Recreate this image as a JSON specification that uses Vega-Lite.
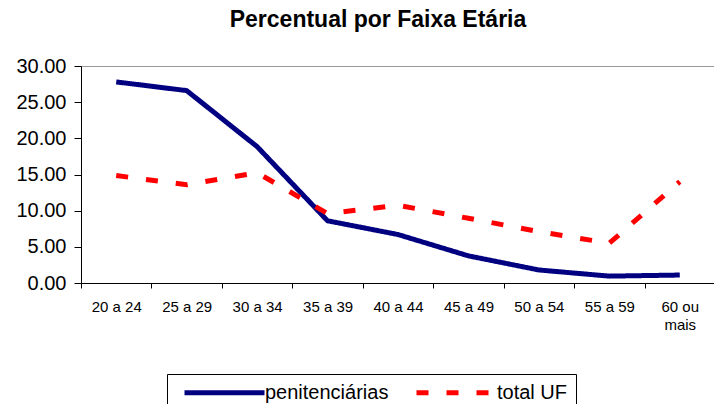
{
  "$schema": "https://vega.github.io/schema/vega-lite/v6.json",
  "autosize": {"type": "none"},
  "padding": {"left": 81, "top": 66, "right": -1, "bottom": 121},
  "width": 634,
  "height": 217,
  "background": "white",
  "title": {
    "text": "Percentual por Faixa Etária",
    "font": "Liberation Sans",
    "fontSize": 23,
    "fontWeight": "bold",
    "color": "black",
    "anchor": "middle",
    "dx": -20,
    "offset": 24
  },
  "data": {
    "values": [
      {"faixa": "20 a 24", "serie": "penitenciárias", "valor": 27.8},
      {"faixa": "25 a 29", "serie": "penitenciárias", "valor": 26.6},
      {"faixa": "30 a 34", "serie": "penitenciárias", "valor": 18.85},
      {"faixa": "35 a 39", "serie": "penitenciárias", "valor": 8.6},
      {"faixa": "40 a 44", "serie": "penitenciárias", "valor": 6.7},
      {"faixa": "45 a 49", "serie": "penitenciárias", "valor": 3.75},
      {"faixa": "50 a 54", "serie": "penitenciárias", "valor": 1.8},
      {"faixa": "55 a 59", "serie": "penitenciárias", "valor": 0.95},
      {"faixa": "60 ou mais", "serie": "penitenciárias", "valor": 1.1},
      {"faixa": "20 a 24", "serie": "total UF", "valor": 14.85},
      {"faixa": "25 a 29", "serie": "total UF", "valor": 13.6},
      {"faixa": "30 a 34", "serie": "total UF", "valor": 15.25},
      {"faixa": "35 a 39", "serie": "total UF", "valor": 9.6},
      {"faixa": "40 a 44", "serie": "total UF", "valor": 10.75},
      {"faixa": "45 a 49", "serie": "total UF", "valor": 8.95},
      {"faixa": "50 a 54", "serie": "total UF", "valor": 7.1},
      {"faixa": "55 a 59", "serie": "total UF", "valor": 5.5},
      {"faixa": "60 ou mais", "serie": "total UF", "valor": 14.0}
    ]
  },
  "mark": {"type": "line", "strokeWidth": 5, "strokeCap": "butt", "strokeJoin": "miter"},
  "encoding": {
    "x": {
      "field": "faixa",
      "type": "nominal",
      "sort": null,
      "bandPosition": 0.5,
      "scale": {"type": "band", "paddingInner": 0, "paddingOuter": 0},
      "axis": {
        "title": null,
        "labelAngle": 0,
        "labelFontSize": 15,
        "labelFont": "Liberation Sans",
        "labelColor": "black",
        "labelPadding": 11,
        "labelLineHeight": 18,
        "labelExpr": "datum.value == '60 ou mais' ? ['60 ou', 'mais'] : datum.value",
        "tickBand": "extent",
        "tickSize": 5,
        "tickColor": "black",
        "domainColor": "black",
        "grid": false
      }
    },
    "y": {
      "field": "valor",
      "type": "quantitative",
      "scale": {"domain": [0, 30], "nice": false, "zero": true},
      "axis": {
        "title": null,
        "values": [0, 5, 10, 15, 20, 25, 30],
        "format": ".2f",
        "labelFontSize": 20,
        "labelFont": "Liberation Sans",
        "labelColor": "black",
        "labelPadding": 8,
        "tickSize": 7,
        "tickColor": "black",
        "domainColor": "black",
        "grid": false
      }
    },
    "color": {
      "field": "serie",
      "type": "nominal",
      "scale": {"domain": ["penitenciárias", "total UF"], "range": ["#000080", "#ff0000"]},
      "legend": {"title": null}
    },
    "strokeDash": {
      "field": "serie",
      "type": "nominal",
      "scale": {"domain": ["penitenciárias", "total UF"], "range": [[1, 0], [12, 18]]},
      "legend": {"title": null}
    }
  },
  "config": {
    "view": {"stroke": "#999999", "strokeWidth": 1},
    "legend": {
      "orient": "none",
      "legendX": 86,
      "legendY": 308,
      "direction": "horizontal",
      "padding": 8,
      "strokeColor": "black",
      "fillColor": "white",
      "labelFont": "Liberation Sans",
      "labelFontSize": 20,
      "labelColor": "black",
      "symbolType": "M-1,0H9",
      "symbolSize": 256,
      "symbolStrokeWidth": 5,
      "symbolOffset": 7,
      "labelOffset": 62,
      "columnPadding": 17
    }
  }
}
